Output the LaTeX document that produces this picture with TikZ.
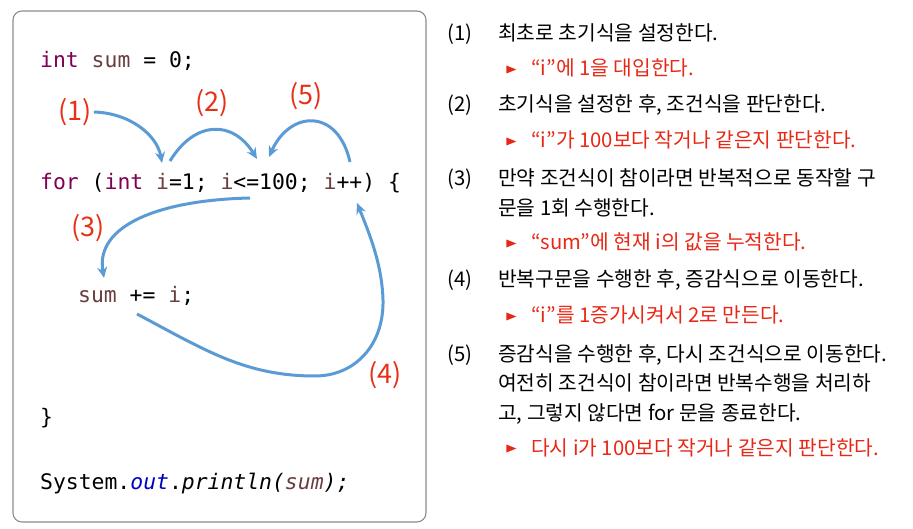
\documentclass[tikz,border=0pt]{standalone}
\usepackage{fontspec}
\setmainfont{Noto Sans CJK KR}
\newfontfamily\codefont{DejaVu Sans Mono}
\usetikzlibrary{arrows.meta,shapes.geometric,positioning}

\definecolor{keypurple}{RGB}{127,0,85}
\definecolor{varbrown}{RGB}{106,62,62}
\definecolor{fieldblue}{RGB}{0,0,192}
\definecolor{flowblue}{RGB}{91,155,213}
\definecolor{labred}{RGB}{232,48,22}
\definecolor{notered}{RGB}{232,40,22}
\definecolor{boxgray}{RGB}{140,140,140}

\newcommand{\kw}[1]{\textcolor{keypurple}{#1}}
\newcommand{\va}[1]{\textcolor{varbrown}{#1}}

\begin{document}
\begin{tikzpicture}[
    x=1pt, y=-1pt,
    code/.style={anchor=base west, inner sep=0pt, font=\codefont\fontsize{21.4}{24}\selectfont},
    steplabel/.style={inner sep=2pt, text=labred, font=\fontsize{27}{30}\selectfont},
    flow/.style={draw=flowblue, line width=3pt, -{Stealth[length=11pt,width=10pt]}},
    numtext/.style={anchor=base west, inner sep=0pt, font=\fontsize{20.3}{23}\selectfont},
    redtext/.style={numtext, text=notered},
    marker/.style={isosceles triangle, isosceles triangle stretches, fill=notered,
                   inner sep=0pt, minimum width=8pt, minimum height=10pt}
]
\useasboundingbox (0,0) rectangle (913,529);

% Code panel
\draw [boxgray, line width=1.1pt, rounded corners=9pt] (13,11) rectangle (426,522);

% Code lines
\node [code] (decl) at (40,68) {\kw{int} \va{sum} = 0;};
\node [code] (loop) at (40,190) {\kw{for} (\kw{int} \va{i}=1; \va{i}<=100; \va{i}++) \{};
\node [code] (body) at (78,303) {\va{sum} += \va{i};};
\node [code] (close) at (40,424) {\}};
\node [code] (print) at (40,489) {System.\textcolor{fieldblue}{\itshape out}.{\itshape println(\va{sum});}};

% Step labels
\foreach \nm/\txt/\px/\py in {lab1/1/75/112, lab2/2/212/103, lab5/5/306/96, lab3/3/88/228, lab4/4/385/375} {
  \node [steplabel] (\nm) at (\px,\py) {(\txt)};
}

% Arrow ends on the code text
\coordinate (initvar) at (162,163);
\coordinate (initend) at (170,161);
\coordinate (condvar) at (257,159);
\coordinate (condin)  at (269,157);
\coordinate (condout) at (250,198);
\coordinate (incstart) at (350,162);
\coordinate (incvar)  at (357,203);
\coordinate (bodyin)  at (104,278);
\coordinate (bodyout) at (137,314);

% Flow arrows
\draw [flow] (lab1.east) .. controls (130,113) and (157,135) .. (initvar);
\draw [flow] (initend) .. controls (195,120) and (233,120) .. (condvar);
\draw [flow] (incstart) .. controls (338,108) and (290,110) .. (condin);
\draw [flow] (condout) .. controls (160,200) and (95,225) .. (bodyin);
\draw [flow] (bodyout) .. controls (205,350) and (245,376) .. (315,376)
                       .. controls (355,376) and (384,345) .. (383,300)
                       .. controls (382,265) and (370,235) .. (incvar);

% Explanations
\node [numtext] (n1) at (447,41) {(1)};
\node [numtext] (t1) at (498,41) {최초로 초기식을 설정한다.};
\node [marker] (m1) at (509,69.5) {};
\node [redtext] (r1) at (531,76) {“i”에 1을 대입한다.};

\node [numtext] (n2) at (447,112) {(2)};
\node [numtext] (t2) at (498,112) {초기식을 설정한 후, 조건식을 판단한다.};
\node [marker] (m2) at (509,141.5) {};
\node [redtext] (r2) at (531,148) {“i”가 100보다 작거나 같은지 판단한다.};

\node [numtext] (n3) at (447,186) {(3)};
\node [numtext] (t3) at (498,186) {만약 조건식이 참이라면 반복적으로 동작할 구};
\node [numtext] (t3b) at (498,216) {문을 1회 수행한다.};
\node [marker] (m3) at (509,243.5) {};
\node [redtext] (r3) at (531,250) {“sum”에 현재 i의 값을 누적한다.};

\node [numtext] (n4) at (447,287) {(4)};
\node [numtext] (t4) at (498,287) {반복구문을 수행한 후, 증감식으로 이동한다.};
\node [marker] (m4) at (509,316.5) {};
\node [redtext] (r4) at (531,323) {“i”를 1증가시켜서 2로 만든다.};

\node [numtext] (n5) at (447,361) {(5)};
\node [numtext] (t5) at (498,361) {증감식을 수행한 후, 다시 조건식으로 이동한다.};
\node [numtext] (t5b) at (498,390) {여전히 조건식이 참이라면 반복수행을 처리하};
\node [numtext] (t5c) at (498,420) {고, 그렇지 않다면 for 문을 종료한다.};
\node [marker] (m5) at (509,448.5) {};
\node [redtext] (r5) at (531,455) {다시 i가 100보다 작거나 같은지 판단한다.};

\end{tikzpicture}
\end{document}
